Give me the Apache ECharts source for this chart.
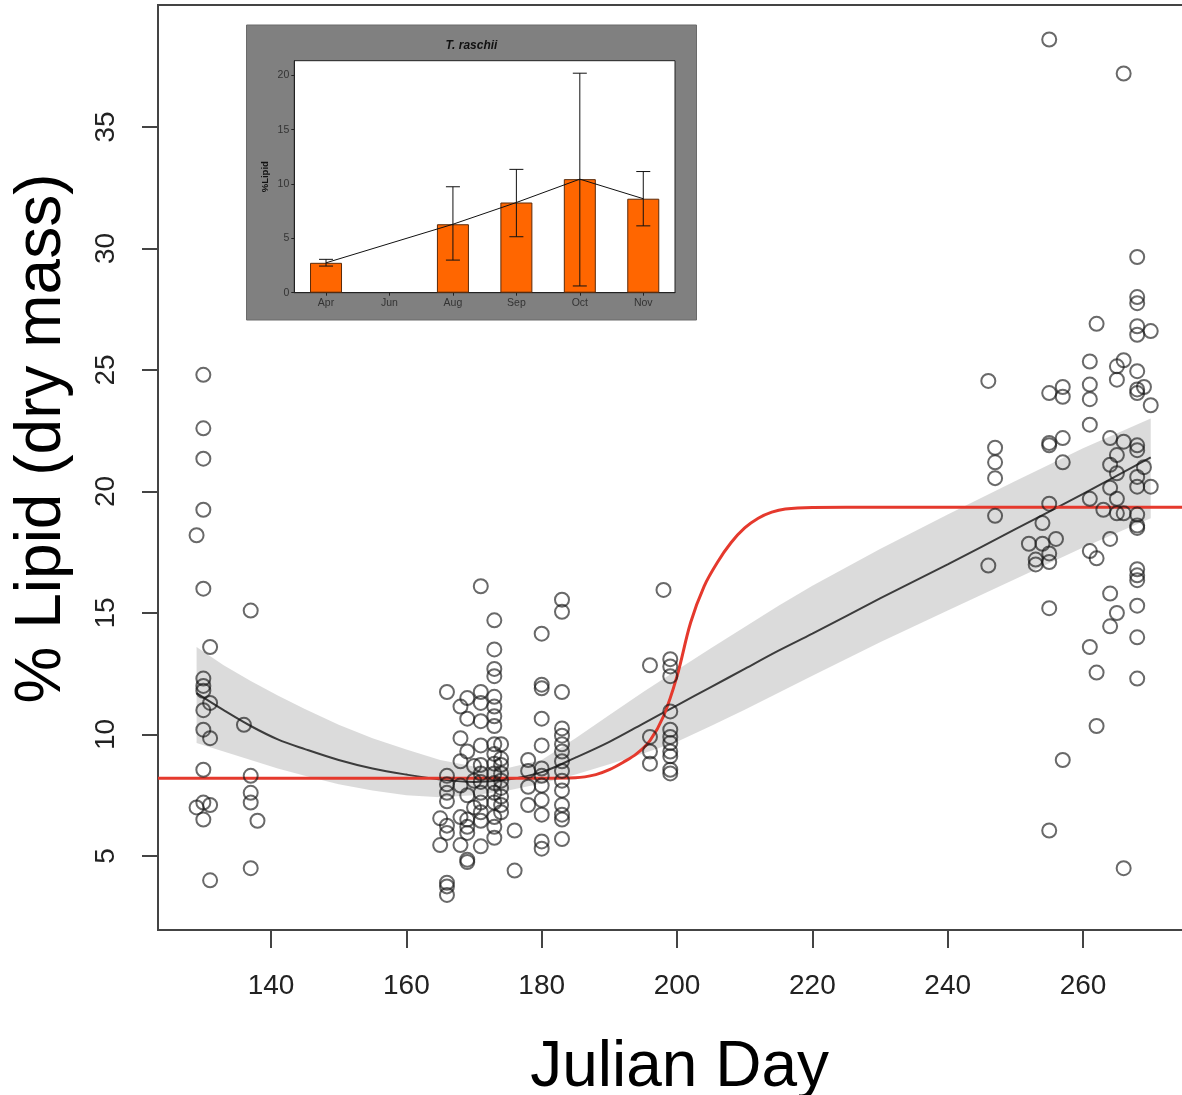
<!DOCTYPE html>
<html><head><meta charset="utf-8">
<script src="https://cdn.jsdelivr.net/npm/echarts@6/dist/echarts.min.js"></script>
<style>html,body{margin:0;padding:0;background:#fff}#c{width:1182px;height:1095px}</style>
</head><body><div id="c"></div>
<script>
// ---------- main plot: observations [julian day, % lipid values] ----------
const obsApril = [
  [129, [18.2, 7.0]],
  [130, [24.8, 22.6, 21.35, 19.25, 16.0, 12.3, 12.0, 11.8, 11.0, 10.2, 8.55, 7.2, 6.5]],
  [131, [13.6, 11.3, 9.85, 7.1, 4.0]],
  [136, [10.4]],
  [137, [15.1, 8.3, 7.6, 7.2, 4.5]],
  [138, [6.45]]
];
const obsJune = [
  [165, [6.55, 5.45]],
  [166, [11.75, 8.3, 7.95, 7.6, 7.25, 6.25, 5.95, 3.9, 3.75, 3.4]],
  [168, [11.15, 9.85, 8.9, 7.9, 6.6, 5.45]],
  [169, [11.5, 10.65, 9.3, 7.5, 6.5, 6.2, 5.95, 4.85, 4.75]],
  [170, [8.7, 8.1, 7.0]],
  [171, [16.1, 11.75, 11.3, 10.55, 9.55, 8.75, 8.4, 8.05, 7.6, 7.2, 6.8, 6.45, 5.4]],
  [173, [14.7, 13.5, 12.7, 12.4, 11.55, 11.15, 10.75, 10.35, 9.6, 9.2, 8.8, 8.4, 8.0, 7.6, 7.2, 6.6, 6.2, 5.75]],
  [174, [9.6, 9.0, 8.75, 8.4, 8.1, 7.8, 7.45, 7.1, 6.8]],
  [176, [6.05, 4.4]],
  [178, [8.95, 8.5, 7.85, 7.1]],
  [180, [14.15, 12.05, 11.9, 10.65, 9.55, 8.6, 8.3, 7.9, 7.3, 6.7, 5.6, 5.3]],
  [183, [15.55, 15.05, 11.75, 10.25, 9.95, 9.6, 9.3, 8.9, 8.5, 8.1, 7.7, 7.1, 6.7, 6.5, 5.7]]
];
const obsJuly = [
  [196, [12.85, 9.9, 9.3, 8.8]],
  [198, [15.95]],
  [199, [13.1, 12.8, 12.4, 10.95, 10.2, 9.9, 9.65, 9.3, 9.1, 8.55, 8.4]]
];
const obsSeptember = [
  [246, [24.55, 16.95]],
  [247, [21.8, 21.2, 20.55, 19.0]],
  [252, [17.85]],
  [253, [17.2, 17.0]],
  [254, [18.7, 17.85]],
  [255, [38.6, 24.05, 22.0, 21.9, 19.5, 17.45, 17.1, 15.2, 6.05]],
  [256, [18.05]],
  [257, [24.3, 23.9, 22.2, 21.2, 8.95]],
  [261, [25.35, 24.4, 23.8, 22.75, 19.7, 17.55, 13.6]],
  [262, [26.9, 17.25, 12.55, 10.35]],
  [263, [19.25]],
  [264, [22.2, 21.1, 20.15, 18.05, 15.8, 14.45]],
  [265, [25.15, 24.6, 21.5, 20.75, 19.7, 19.1, 15.0]],
  [266, [37.2, 25.4, 22.05, 19.1, 4.5]],
  [268, [29.65, 28.0, 27.75, 26.8, 26.45, 24.95, 24.2, 24.05, 21.9, 21.7, 20.6, 20.2, 19.05, 18.6, 18.5, 16.8, 16.55, 16.35, 15.3, 14.0, 12.3]],
  [269, [24.3, 21.0]],
  [270, [26.6, 23.55, 20.2]]
];

// smooth fit with confidence band
const fitDays  = [129, 133, 137, 141, 145, 150, 155, 160, 165, 170, 175, 180, 185, 190, 195, 200, 205, 210, 215, 220, 230, 240, 250, 260, 270];
const fitLipid = [11.7, 11.0, 10.35, 9.8, 9.4, 8.95, 8.6, 8.35, 8.15, 8.05, 8.15, 8.45, 9.05, 9.7, 10.45, 11.2, 11.95, 12.7, 13.45, 14.15, 15.6, 17.0, 18.45, 19.9, 21.4];
const bandLow  = [9.65, 9.3, 8.95, 8.6, 8.3, 7.95, 7.7, 7.5, 7.42, 7.5, 7.7, 7.98, 8.35, 8.78, 9.22, 9.7, 10.35, 11.02, 11.72, 12.42, 13.8, 15.1, 16.4, 17.7, 18.9];
const bandHigh = [13.6, 12.85, 12.2, 11.6, 11.05, 10.4, 9.85, 9.38, 8.95, 8.68, 8.62, 8.95, 9.85, 10.8, 11.75, 12.65, 13.55, 14.42, 15.3, 16.12, 17.63, 19.05, 20.43, 21.78, 23.0];

// step (threshold) model, red curve
const stepDays  = [123.3, 180, 185, 188, 190, 192, 194, 196, 198, 200, 202, 204, 206, 208, 210, 212, 214, 216, 220, 230, 275.7];
const stepLipid = [8.2, 8.2, 8.22, 8.35, 8.55, 8.85, 9.2, 9.75, 10.75, 12.4, 14.6, 16.1, 17.1, 17.9, 18.5, 18.9, 19.15, 19.28, 19.34, 19.35, 19.35];

const xTicks = [140, 160, 180, 200, 220, 240, 260];
const yTicks = [5, 10, 15, 20, 25, 30, 35];

// ---------- inset: T. raschii monthly means ----------
const insetMonths = ['Apr', 'Jun', 'Aug', 'Sep', 'Oct', 'Nov'];
const insetMean   = [2.75, null, 6.3, 8.3, 10.45, 8.65];
const insetLow    = [2.45, null, 3.0, 5.15, 0.62, 6.15];
const insetHigh   = [3.07, null, 9.75, 11.35, 20.2, 11.15];
const insetYTicks = [0, 5, 10, 15, 20];

// ---------- build ----------
function expand(groups) {
  const out = [];
  groups.forEach(([d, vals]) => vals.forEach(v => out.push([d, v])));
  return out;
}
const scatterData = [].concat(expand(obsApril), expand(obsJune), expand(obsJuly), expand(obsSeptember));
const zip = (a, b) => a.map((v, i) => [v, b[i]]);
const errData = [];
insetMonths.forEach((m, i) => { if (insetMean[i] != null) errData.push([i, insetLow[i], insetHigh[i]]); });

const FONT = "'Liberation Sans', Arial, Helvetica, sans-serif";
const chart = echarts.init(document.getElementById('c'), null, { renderer: 'canvas' });

chart.setOption({
  animation: false,
  backgroundColor: '#ffffff',
  grid: [
    { left: 158, top: 5, right: -7.3, bottom: 165, show: true, borderColor: '#444', borderWidth: 2,
      backgroundColor: 'transparent', containLabel: false, outerBoundsMode: 'none', z: 0 },
    { left: 294.3, top: 60.7, width: 380.7, height: 232, show: true, backgroundColor: '#ffffff',
      borderColor: '#222', borderWidth: 1, containLabel: false, outerBoundsMode: 'none', z: 2 }
  ],
  graphic: [
    { type: 'rect', z: 1, shape: { x: 246.5, y: 25, width: 450, height: 295 },
      style: { fill: '#808080', stroke: '#6a6a6a', lineWidth: 1 } },
    { type: 'text', z: 10, x: 471.5, y: 46,
      style: { text: 'T. raschii', fill: '#111', font: "italic bold 12px 'Liberation Sans', Arial, sans-serif",
               align: 'center', verticalAlign: 'middle', textAlign: 'center', textVerticalAlign: 'middle' } }
  ],
  xAxis: [
    { type: 'value', gridIndex: 0, min: 123.3, max: 275.7,
      axisLine: { show: true, onZero: false, lineStyle: { color: '#444', width: 2 } },
      axisTick: { show: true, customValues: xTicks, length: 18, lineStyle: { color: '#444', width: 2 } },
      axisLabel: { customValues: xTicks, fontSize: 28, color: '#222', fontFamily: FONT, margin: 42 },
      splitLine: { show: false },
      name: 'Julian Day', nameLocation: 'middle', nameGap: 106,
      nameTextStyle: { fontSize: 64, color: '#000', fontFamily: FONT, padding: [0, 0, 0, 12] } },
    { type: 'category', gridIndex: 1, data: insetMonths, boundaryGap: true,
      axisLine: { show: true, lineStyle: { color: '#222', width: 1 } },
      axisTick: { show: true, alignWithLabel: true, length: 3, lineStyle: { color: '#222' } },
      axisLabel: { fontSize: 10.5, color: '#333', fontFamily: FONT, margin: 5 },
      splitLine: { show: false }, z: 3 }
  ],
  yAxis: [
    { type: 'value', gridIndex: 0, min: 1.955, max: 40.02,
      axisLine: { show: true, onZero: false, lineStyle: { color: '#444', width: 2 } },
      axisTick: { show: true, customValues: yTicks, length: 16, lineStyle: { color: '#444', width: 2 } },
      axisLabel: { customValues: yTicks, rotate: 90, fontSize: 28, color: '#222', fontFamily: FONT, margin: 38 },
      splitLine: { show: false },
      name: '% Lipid (dry mass)', nameLocation: 'middle', nameGap: 84,
      nameTextStyle: { fontSize: 64, color: '#000', fontFamily: FONT, padding: [0, 0, 0, 58] } },
    { type: 'value', gridIndex: 1, min: 0, max: 21.35,
      axisLine: { show: true, lineStyle: { color: '#222', width: 1 } },
      axisTick: { show: true, customValues: insetYTicks, length: 3, lineStyle: { color: '#222' } },
      axisLabel: { customValues: insetYTicks, fontSize: 10.5, color: '#333', fontFamily: FONT, margin: 5 },
      splitLine: { show: false },
      name: '%Lipid', nameLocation: 'middle', nameGap: 24,
      nameTextStyle: { fontSize: 9.5, fontWeight: 'bold', color: '#111', fontFamily: FONT }, z: 3 }
  ],
  series: [
    { type: 'custom', name: 'band', xAxisIndex: 0, yAxisIndex: 0, z: 1, silent: true,
      data: [[fitDays[0], fitLipid[0]]],
      renderItem: function (params, api) {
        const pts = [];
        for (let i = 0; i < fitDays.length; i++) pts.push(api.coord([fitDays[i], bandHigh[i]]));
        for (let i = fitDays.length - 1; i >= 0; i--) pts.push(api.coord([fitDays[i], bandLow[i]]));
        return { type: 'polygon', shape: { points: pts },
                 style: { fill: 'rgba(205,205,205,0.72)', stroke: 'none' } };
      } },
    { type: 'line', name: 'fit', xAxisIndex: 0, yAxisIndex: 0, z: 2, data: zip(fitDays, fitLipid),
      showSymbol: false, smooth: 0.35, silent: true, lineStyle: { color: '#3c3c3c', width: 2 } },
    { type: 'line', name: 'step', xAxisIndex: 0, yAxisIndex: 0, z: 3, data: zip(stepDays, stepLipid),
      showSymbol: false, smooth: 0.35, silent: true, lineStyle: { color: '#e5392d', width: 3 } },
    { type: 'scatter', name: 'obs', xAxisIndex: 0, yAxisIndex: 0, z: 4, data: scatterData,
      symbol: 'circle', symbolSize: 14, silent: true,
      itemStyle: { color: 'transparent', borderColor: 'rgba(20,20,20,0.8)', borderWidth: 2 } },
    { type: 'bar', name: 'insetMean', xAxisIndex: 1, yAxisIndex: 1, z: 5, data: insetMean, barWidth: 32,
      itemStyle: { color: '#ff6600', borderColor: '#5a2a0a', borderWidth: 1 }, silent: true },
    { type: 'line', name: 'insetTrend', xAxisIndex: 1, yAxisIndex: 1, z: 6, data: insetMean,
      connectNulls: true, showSymbol: false, silent: true, lineStyle: { color: '#111', width: 1 } },
    { type: 'custom', name: 'insetErr', xAxisIndex: 1, yAxisIndex: 1, z: 7, data: errData, silent: true,
      encode: { x: 0, y: [1, 2] },
      renderItem: function (params, api) {
        const lo = api.coord([api.value(0), api.value(1)]);
        const hi = api.coord([api.value(0), api.value(2)]);
        const hw = 7;
        const st = { stroke: '#111', lineWidth: 1 };
        return { type: 'group', children: [
          { type: 'line', shape: { x1: lo[0], y1: lo[1], x2: hi[0], y2: hi[1] }, style: st },
          { type: 'line', shape: { x1: lo[0] - hw, y1: lo[1], x2: lo[0] + hw, y2: lo[1] }, style: st },
          { type: 'line', shape: { x1: hi[0] - hw, y1: hi[1], x2: hi[0] + hw, y2: hi[1] }, style: st }
        ] };
      } }
  ]
});
</script></body></html>
